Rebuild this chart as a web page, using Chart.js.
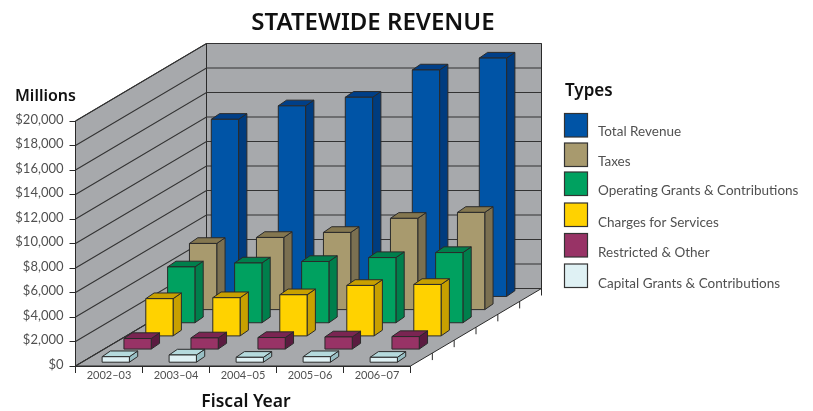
<!DOCTYPE html>
<html><head><meta charset="utf-8">
<style>html,body{margin:0;padding:0;background:#fff}canvas{display:block}</style>
<script src="https://cdn.jsdelivr.net/npm/chart.js@4"></script></head>
<body><canvas id="c" width="813" height="411"></canvas>
<script>
const chartTitle = 'STATEWIDE REVENUE';
const xTitle = 'Fiscal Year';
const yTitle = 'Millions';
const legendTitle = 'Types';
const fiscalYears = ['2002–03','2003–04','2004–05','2005–06','2006–07'];
const totalRevenue = [14500,15600,16300,18530,19500];
const taxes = [5440,5930,6340,7490,7975];
const operatingGrants = [4600,4920,5040,5360,5770];
const chargesForServices = [3080,3160,3400,4160,4240];
const restrictedOther = [900,950,980,1030,1060];
const capitalGrants = [490,630,440,490,440];
const yMax = 20000, yStep = 2000;

const seriesNames = ['Total Revenue','Taxes','Operating Grants & Contributions','Charges for Services','Restricted & Other','Capital Grants & Contributions'];
const seriesValues = [totalRevenue,taxes,operatingGrants,chargesForServices,restrictedOther,capitalGrants];
const frontColors = ['#0054a6','#a89a6e','#00a160','#ffd200','#983366','#dff1f4'];
const sideColors  = ['#003c7f','#7b7051','#007f4c','#c8a000','#5a1b40','#99bfc4'];
const topColors   = ['#003f88','#847750','#007f4c','#c8a000','#7a2552','#b5dadd'];

// 3-D projection: the whole floor depth and the depth of a single box
const DEPTH_X = 131, DEPTH_Y = 77.5, SLOTS = 6, BOX_X = 8.3, BOX_Y = 5.7;
const WALL = '#a7a9ac', INK = '#2a2a2a', TXT = '#505050';

const box3d = {
  id: 'box3d',
  beforeDraw(chart) {
    const ctx = chart.ctx, {x, y} = chart.scales;
    const L = x.left, R = x.right, B = y.bottom, T = y.getPixelForValue(yMax);
    ctx.save();
    ctx.fillStyle = WALL;
    ctx.strokeStyle = INK;
    ctx.lineWidth = 1;
    // left wall + floor + back wall
    const poly = pts => { ctx.beginPath(); pts.forEach((p,i)=> i?ctx.lineTo(p[0],p[1]):ctx.moveTo(p[0],p[1])); ctx.closePath(); ctx.fill(); ctx.stroke(); };
    poly([[L,T],[L+DEPTH_X,T-DEPTH_Y],[L+DEPTH_X,B-DEPTH_Y],[L,B]]);
    poly([[L+DEPTH_X,T-DEPTH_Y],[R+DEPTH_X,T-DEPTH_Y],[R+DEPTH_X,B-DEPTH_Y],[L+DEPTH_X,B-DEPTH_Y]]);
    poly([[L,B],[L+DEPTH_X,B-DEPTH_Y],[R+DEPTH_X,B-DEPTH_Y],[R,B]]);
    // grid lines on both walls, positioned by the value scale
    for (let v = 0; v <= yMax; v += yStep) {
      const py = y.getPixelForValue(v);
      ctx.beginPath();
      ctx.moveTo(L, py);
      ctx.lineTo(L + DEPTH_X, py - DEPTH_Y);
      ctx.lineTo(R + DEPTH_X, py - DEPTH_Y);
      ctx.lineWidth = 1.1;
      ctx.strokeStyle = '#333';
      ctx.stroke();
    }
    // depth ticks under the right floor edge
    ctx.lineWidth = 1;
    ctx.strokeStyle = INK;
    for (let i = 0; i <= SLOTS; i++) {
      const px = R + DEPTH_X * i / SLOTS, py = B - DEPTH_Y * i / SLOTS;
      ctx.beginPath(); ctx.moveTo(px, py); ctx.lineTo(px, py + 7); ctx.stroke();
    }
    ctx.restore();
  },
  beforeDatasetDraw(chart, args) {
    const ctx = chart.ctx, i = args.index;
    const depth = SLOTS - 1 - i;
    const ox = DEPTH_X * (depth + .5) / SLOTS - BOX_X / 2;
    const oy = 3.3 + 13.15 * depth;
    ctx.save();
    ctx.lineWidth = 1;
    ctx.strokeStyle = INK;
    ctx.lineJoin = 'round';
    args.meta.data.forEach(el => {
      const l = el.x - el.width / 2 + ox, r = el.x + el.width / 2 + ox;
      const t = el.y - oy, b = el.base - oy;
      const poly = (c, pts) => { ctx.fillStyle = c; ctx.beginPath(); pts.forEach((p,k)=> k?ctx.lineTo(p[0],p[1]):ctx.moveTo(p[0],p[1])); ctx.closePath(); ctx.fill(); ctx.stroke(); };
      poly(sideColors[i], [[r,t],[r+BOX_X,t-BOX_Y],[r+BOX_X,b-BOX_Y],[r,b]]);
      poly(topColors[i], [[l,t],[l+BOX_X,t-BOX_Y],[r+BOX_X,t-BOX_Y],[r,t]]);
      poly(frontColors[i], [[l,t],[r,t],[r,b],[l,b]]);
    });
    ctx.restore();
    return false;
  },
  afterDraw(chart) {
    const ctx = chart.ctx;
    ctx.save();
    ctx.textBaseline = 'middle';
    ctx.fillStyle = '#111';
    ctx.textAlign = 'center';
    ctx.font = '600 24px "Noto Sans"';
    ctx.fillText(chartTitle, 373, 23);
    ctx.font = '600 17.5px "Noto Sans"';
    ctx.fillText(xTitle, 246, 402);
    ctx.textAlign = 'left';
    ctx.font = '600 16px "Noto Sans"';
    ctx.fillText(yTitle, 15, 96);
    ctx.font = '600 17px "Noto Sans"';
    ctx.fillText(legendTitle, 565, 91);
    const boxTops = [113.5,143,172,203,233.5,264];
    const textYs = [131.5,161.5,190.5,222.5,252.5,283.5];
    ctx.font = '13.5px Lato';
    ctx.lineWidth = 1.2;
    seriesNames.forEach((name, i) => {
      ctx.fillStyle = frontColors[i];
      ctx.strokeStyle = '#333';
      ctx.fillRect(564.5, boxTops[i], 23, 23.5);
      ctx.strokeRect(564.5, boxTops[i], 23, 23.5);
      ctx.fillStyle = TXT;
      ctx.fillText(name, 598, textYs[i]);
    });
    ctx.restore();
  }
};

new Chart(document.getElementById('c'), {
  type: 'bar',
  data: {
    labels: fiscalYears,
    datasets: seriesNames.map((label, i) => ({
      label, data: seriesValues[i], backgroundColor: frontColors[i],
      grouped: false, barThickness: 27.3, order: seriesNames.length - 1 - i
    }))
  },
  plugins: [box3d],
  options: {
    responsive: false,
    animation: false,
    layout: { padding: { left: 0, right: 402.5, top: 121, bottom: 0 } },
    plugins: { legend: { display: false }, title: { display: false }, tooltip: { enabled: false } },
    scales: {
      x: {
        afterFit(s) { s.height = 45; },
        grid: { display: true, drawOnChartArea: false, drawTicks: true, tickLength: 7, color: INK, offset: true },
        border: { display: true, color: INK },
        ticks: { color: TXT, font: { family: 'Lato', size: 11 }, padding: -4, maxRotation: 0 }
      },
      y: {
        min: 0, max: yMax,
        afterFit(s) { s.width = 75.5; },
        grid: { display: true, drawOnChartArea: false, drawTicks: true, tickLength: 6, color: INK },
        border: { display: true, color: INK },
        ticks: { stepSize: yStep, color: TXT, font: { family: 'Lato', size: 13 }, padding: 6, labelOffset: -1.5,
          callback: v => '$' + Number(v).toLocaleString('en-US') }
      }
    }
  }
});
</script></body></html>
